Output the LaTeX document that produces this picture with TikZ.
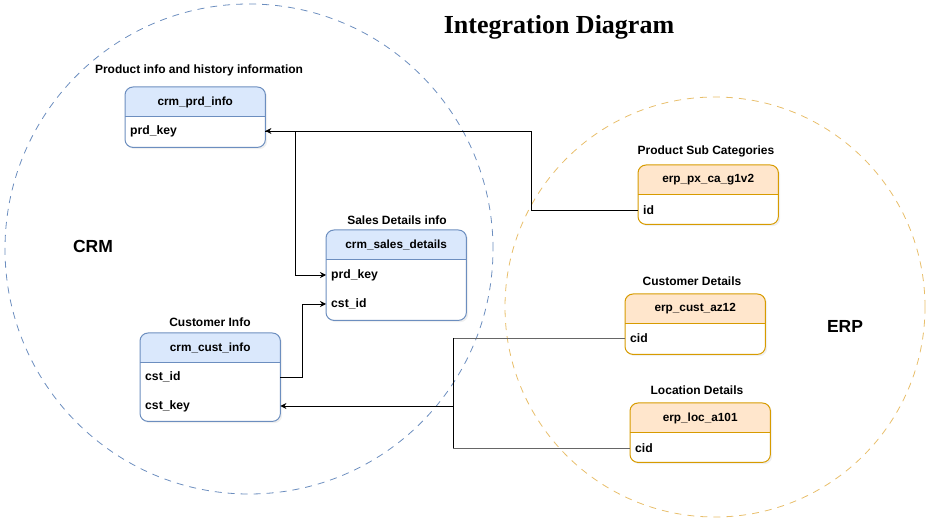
\documentclass[tikz,border=0pt]{standalone}
\usepackage{fontspec}
\setmainfont{Liberation Sans}
\newfontfamily\titlefont{Liberation Serif}
\usetikzlibrary{arrows.meta,shadows}
\definecolor{crmline}{HTML}{6C8EBF}
\definecolor{crmfill}{HTML}{DAE8FC}
\definecolor{erpline}{HTML}{D79B00}
\definecolor{erpfill}{HTML}{FFE6CC}
\definecolor{erpdash}{HTML}{E8BE6A}
\definecolor{grayline}{HTML}{666666}
\tikzset{
  tbl/.style={rounded corners=8pt, minimum width=140pt, inner sep=0pt, fill=white,
    drop shadow={opacity=0.12, shadow xshift=2pt, shadow yshift=-2pt}},
  hdr/.style={font=\bfseries\fontsize{11.8}{14}\selectfont},
  fld/.style={font=\bfseries\fontsize{12.2}{14}\selectfont, anchor=west, inner sep=0pt},
  lbl/.style={font=\bfseries\fontsize{12}{14}\selectfont},
  big/.style={font=\bfseries\fontsize{17.5}{20}\selectfont},
  conn/.style={line width=0.9pt, -{Stealth[length=6pt,width=6pt]}},
  plain/.style={line width=0.9pt},
  circdash/.style={line width=0.8pt, dash pattern=on 7pt off 6pt}
}
\newcommand\dbtab[6]{%
  \node[tbl, minimum height=#4pt, anchor=north west] (#1) at (#2,#3) {};
  \begin{scope}
    \clip[rounded corners=8pt] (#1.north west) rectangle (#1.south east);
    \fill[#6fill] (#1.north west) rectangle ([yshift=-30pt]#1.north east);
  \end{scope}
  \draw[#6line, line width=1pt] ([yshift=-30pt]#1.north west) -- ([yshift=-30pt]#1.north east);
  \draw[#6line, rounded corners=8pt, line width=1pt] (#1.north west) rectangle (#1.south east);
  \node[hdr] (#1-h) at ([yshift=-15pt]#1.north) {#5};
}
\begin{document}
\begin{tikzpicture}[x=1pt,y=-1pt]
\useasboundingbox (0,0) rectangle (932,526);
% group circles
\draw[circdash, crmline] (249,249) ellipse [x radius=244pt, y radius=245pt];
\draw[circdash, erpdash] (715,307) ellipse [x radius=210pt, y radius=210pt];
% title and group labels
\node[font=\titlefont\bfseries\fontsize{26}{30}\selectfont] (title) at (559,27) {Integration Diagram};
\node[big] (crmlbl) at (93,246) {CRM};
\node[big] (erplbl) at (845,326) {ERP};
% tables
\dbtab{prd}{125}{87}{60}{crm\_prd\_info}{crm}
\dbtab{sales}{326}{230}{90}{crm\_sales\_details}{crm}
\dbtab{cust}{140}{333}{88}{crm\_cust\_info}{crm}
\dbtab{px}{638}{165}{59}{erp\_px\_ca\_g1v2}{erp}
\dbtab{az}{625}{294}{60}{erp\_cust\_az12}{erp}
\dbtab{loc}{630}{403}{59}{erp\_loc\_a101}{erp}
% table captions
\node[lbl] (prdcap) at (199,70) {Product info and history information};
\node[lbl] (salescap) at (397,220) {Sales Details info};
\node[lbl] (custcap) at (210,322) {Customer Info};
\node[lbl] (pxcap) at (706,151) {Product Sub Categories};
\node[lbl] (azcap) at (692,281) {Customer Details};
\node[lbl] (loccap) at (697,390) {Location Details};
% fields
\node[fld] (prdkey) at (130,131) {prd\_key};
\node[fld] (salesprd) at (331,275) {prd\_key};
\node[fld] (salescst) at (331,304) {cst\_id};
\node[fld] (custid) at (145,377) {cst\_id};
\node[fld] (custkey) at (145,406) {cst\_key};
\node[fld] (pxid) at (643,210) {id};
\node[fld] (azcid) at (630,338) {cid};
\node[fld] (loccid) at (635,448) {cid};
% connectors
\coordinate (jn) at (453,406);
\draw[conn] (px.west |- pxid) -- ++(-107,0) |- (prd.east |- prdkey);
\draw[conn] (prd.east |- prdkey) -- ++(30,0) |- (sales.west |- salesprd);
\draw[conn] (cust.east |- custid) -- ++(22,0) |- (sales.west |- salescst);
\draw[plain, grayline] (az.west |- azcid) -- (jn |- azcid);
\draw[plain] (jn |- azcid) -- (jn);
\draw[conn] (jn) -- (cust.east |- custkey);
\draw[plain, grayline] (loc.west |- loccid) -- (jn |- loccid);
\draw[plain] (jn |- loccid) -- (jn);
\end{tikzpicture}
\end{document}
